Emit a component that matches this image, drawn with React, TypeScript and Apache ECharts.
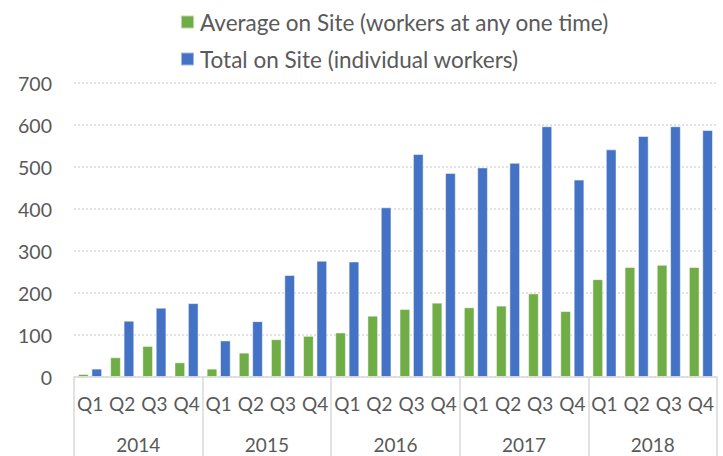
import React, { useEffect, useRef } from "react";
import * as echarts from "echarts";

const years = ["2014", "2015", "2016", "2017", "2018"];
const quarters = ["Q1", "Q2", "Q3", "Q4"];
const averageOnSite = [7, 47, 74, 35, 20, 58, 90, 98, 106, 146, 162, 177, 166, 170, 199, 157, 233, 262, 267, 262];
const totalOnSite = [20, 134, 165, 176, 87, 133, 243, 277, 275, 404, 531, 486, 499, 510, 597, 470, 542, 574, 597, 588];
const yTicks = { min: 0, max: 700, interval: 100 };

const categories: string[] = [];
years.forEach((y) => quarters.forEach((q) => categories.push(y + " " + q)));

const FONT = "Lato, 'Noto Sans', sans-serif";
const TEXT = "#595959";
const LINE = "#d9d9d9";

export default function App() {
  const ref = useRef<HTMLDivElement>(null);
  useEffect(() => {
    if (!ref.current) return;
    const chart = echarts.init(ref.current, undefined, { renderer: "svg" });
    chart.setOption({
      animation: false,
      textStyle: { fontFamily: FONT },
      legend: {
        orient: "vertical",
        left: 175,
        top: 5,
        itemWidth: 13,
        itemHeight: 13,
        itemGap: 13,
        icon: "rect",
        textStyle: { fontSize: 22.5, color: TEXT, fontFamily: FONT, lineHeight: 24, padding: [0, 0, 0, 1] },
        data: ["Average on Site (workers at any one time)", "Total on Site (individual workers)"],
      },
      grid: { left: 74, right: 6, top: 83, bottom: 79, containLabel: false },
      xAxis: [
        {
          type: "category",
          data: categories,
          position: "bottom",
          axisLine: { lineStyle: { color: LINE, width: 1.5 } },
          axisTick: { show: false },
          axisLabel: {
            interval: 0,
            fontSize: 19,
            color: TEXT,
            fontFamily: FONT,
            margin: 17,
            formatter: (v: string) => v.split(" ")[1],
          },
          splitLine: { show: false },
        },
        {
          type: "category",
          data: years,
          position: "bottom",
          axisLine: { show: false },
          axisTick: { show: true, length: 80, interval: 0, lineStyle: { color: LINE, width: 1.5 } },
          axisLabel: { interval: 0, fontSize: 19, color: TEXT, fontFamily: FONT, margin: 58 },
          splitLine: { show: false },
        },
      ],
      yAxis: {
        type: "value",
        min: yTicks.min,
        max: yTicks.max,
        interval: yTicks.interval,
        axisLine: { show: false },
        axisTick: { show: false },
        axisLabel: { fontSize: 19.5, color: TEXT, fontFamily: FONT, margin: 22 },
        splitLine: { lineStyle: { color: LINE, type: [2, 2], width: 1.5 } },
      },
      series: [
        {
          name: "Average on Site (workers at any one time)",
          type: "bar",
          xAxisIndex: 0,
          data: averageOnSite,
          barCategoryGap: "25%",
          barGap: "25%",
          itemStyle: { color: "#70AD47", borderColor: "rgba(255,255,255,0.5)", borderWidth: 1 },
        },
        {
          name: "Total on Site (individual workers)",
          type: "bar",
          xAxisIndex: 0,
          data: totalOnSite,
          barCategoryGap: "25%",
          barGap: "25%",
          itemStyle: { color: "#4472C4", borderColor: "rgba(255,255,255,0.5)", borderWidth: 1 },
        },
      ],
    });
    return () => chart.dispose();
  }, []);
  return (
    <div
      ref={ref}
      style={{ position: "fixed", left: 0, top: 0, width: 723, height: 456, background: "#fff" }}
    />
  );
}
